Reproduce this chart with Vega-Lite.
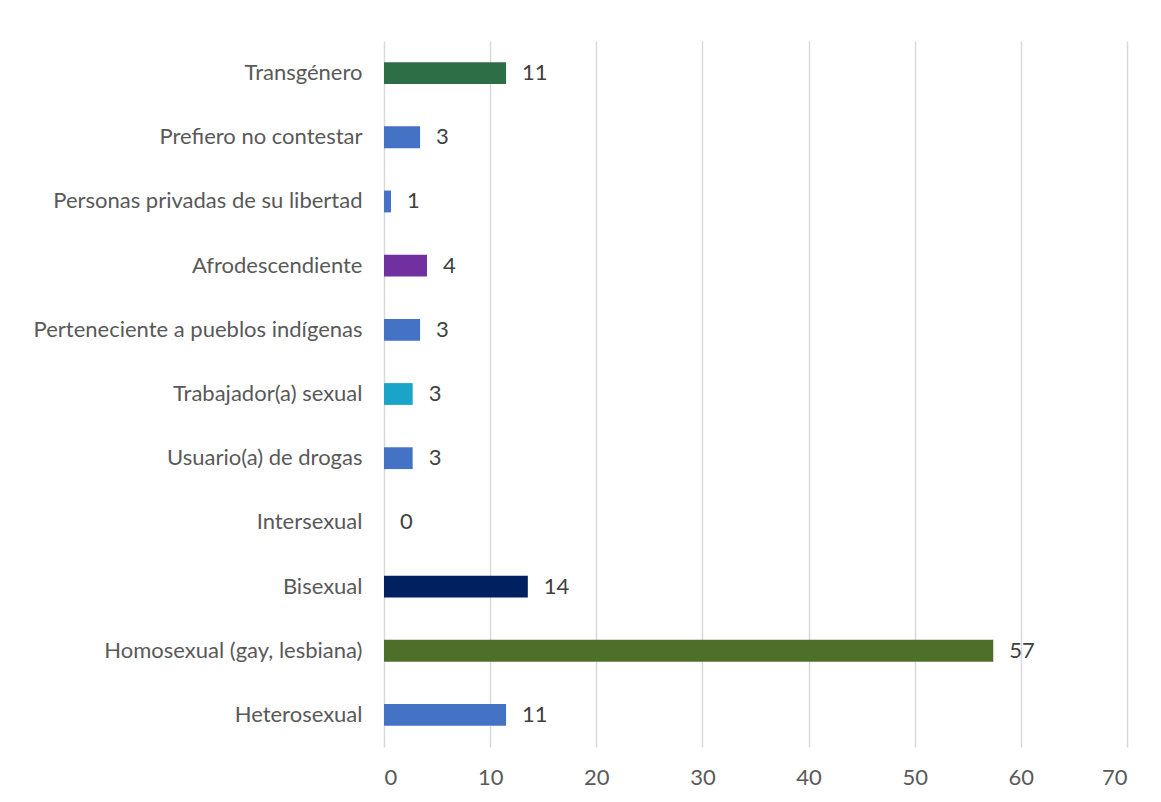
{
  "$schema": "https://vega.github.io/schema/vega-lite/v6.json",
  "autosize": {"type": "none"},
  "padding": {"left": 384, "top": 41, "right": 34, "bottom": 55},
  "width": 743,
  "height": 706,
  "background": "white",
  "data": {
    "values": [
      {"grupo": "Transgénero", "valor": 11.5, "etiqueta": "11"},
      {"grupo": "Prefiero no contestar", "valor": 3.4, "etiqueta": "3"},
      {"grupo": "Personas privadas de su libertad", "valor": 0.66, "etiqueta": "1"},
      {"grupo": "Afrodescendiente", "valor": 4.05, "etiqueta": "4"},
      {"grupo": "Perteneciente a pueblos indígenas", "valor": 3.4, "etiqueta": "3"},
      {"grupo": "Trabajador(a) sexual", "valor": 2.7, "etiqueta": "3"},
      {"grupo": "Usuario(a) de drogas", "valor": 2.7, "etiqueta": "3"},
      {"grupo": "Intersexual", "valor": 0, "etiqueta": "0"},
      {"grupo": "Bisexual", "valor": 13.55, "etiqueta": "14"},
      {"grupo": "Homosexual (gay, lesbiana)", "valor": 57.4, "etiqueta": "57"},
      {"grupo": "Heterosexual", "valor": 11.5, "etiqueta": "11"}
    ]
  },
  "encoding": {
    "y": {
      "field": "grupo",
      "type": "nominal",
      "sort": null,
      "title": null,
      "scale": {"paddingInner": 0.66, "paddingOuter": 0.33},
      "axis": {
        "domain": false,
        "ticks": false,
        "labelPadding": 22,
        "labelFont": "Lato",
        "labelFontSize": 22,
        "labelColor": "#595959",
        "labelLimit": 400,
        "encode": {
          "labels": {
            "update": {
              "dx": {"signal": "(datum.value == 'Transgénero' || datum.value == 'Perteneciente a pueblos indígenas' || datum.value == 'Trabajador(a) sexual' || datum.value == 'Intersexual' || datum.value == 'Bisexual' || datum.value == 'Heterosexual') ? -7 : 0"}
            }
          }
        }
      }
    },
    "x": {
      "field": "valor",
      "type": "quantitative",
      "title": null,
      "scale": {"domain": [0, 70], "nice": false},
      "axis": {
        "values": [0, 10, 20, 30, 40, 50, 60, 70],
        "domain": false,
        "ticks": false,
        "grid": true,
        "gridColor": "#d9d9d9",
        "gridWidth": 1.5,
        "labelPadding": 20,
        "labelFont": "Lato",
        "labelFontSize": 22,
        "labelColor": "#595959"
      }
    }
  },
  "layer": [
    {
      "mark": {"type": "bar"},
      "encoding": {
        "color": {
          "field": "grupo",
          "type": "nominal",
          "legend": null,
          "scale": {
            "domain": ["Transgénero", "Prefiero no contestar", "Personas privadas de su libertad", "Afrodescendiente", "Perteneciente a pueblos indígenas", "Trabajador(a) sexual", "Usuario(a) de drogas", "Intersexual", "Bisexual", "Homosexual (gay, lesbiana)", "Heterosexual"],
            "range": ["#2E6E46", "#4472C4", "#4472C4", "#7030A0", "#4472C4", "#1AA5C8", "#4472C4", "#4472C4", "#002060", "#4E6F2A", "#4472C4"]
          }
        }
      }
    },
    {
      "mark": {"type": "text", "align": "left", "baseline": "middle", "dx": 16, "font": "Lato", "fontSize": 22, "color": "#404040"},
      "encoding": {"text": {"field": "etiqueta"}}
    }
  ],
  "config": {"view": {"stroke": null}}
}
